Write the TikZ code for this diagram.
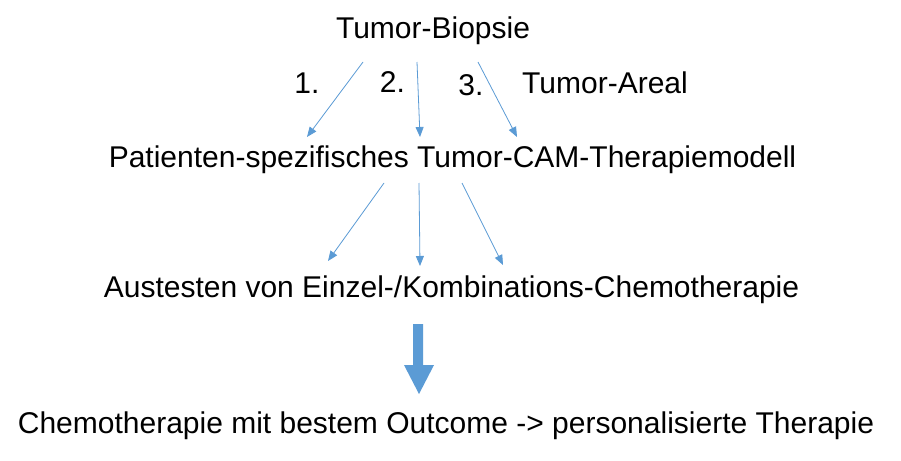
\documentclass[tikz,border=0pt]{standalone}
\usepackage{fontspec}
\setmainfont{Liberation Sans}
\usetikzlibrary{arrows.meta}
\definecolor{arrowblue}{HTML}{5B9BD5}
\begin{document}
\begin{tikzpicture}[x=1pt,y=-1pt,
  lbl/.style={anchor=base,inner sep=0pt,font=\fontsize{30}{36}\selectfont},
  conn/.style={draw=arrowblue,line width=0.8pt,-{Triangle[length=10pt,width=8pt]}},
  bigarrow/.style={fill=arrowblue,draw=none}]
\useasboundingbox (0,0) rectangle (901,460);
\fill[white] (0,0) rectangle (901,460);
% text nodes
\node[lbl] (bio) at (433,38) {Tumor-Biopsie};
\node[lbl] (n1) at (307,93) {1.};
\node[lbl] (n2) at (392.5,92) {2.};
\node[lbl] (n3) at (471,95) {3.};
\node[lbl] (areal) at (605,93) {Tumor-Areal};
\node[lbl] (model) at (452.5,167) {Patienten-spezifisches Tumor-CAM-Therapiemodell};
\node[lbl] (test) at (451.5,297) {Austesten von Einzel-/Kombinations-Chemotherapie};
\node[lbl] (out) at (446,433) {Chemotherapie mit bestem Outcome -> personalisierte Therapie};
% connector end points
\coordinate (a1s) at (363,62); \coordinate (a1e) at (307,137);
\coordinate (a2s) at (417,62); \coordinate (a2e) at (420,137);
\coordinate (a3s) at (478,62); \coordinate (a3e) at (517,137);
\coordinate (b1s) at (384,183); \coordinate (b1e) at (328,261);
\coordinate (b2s) at (419,183); \coordinate (b2e) at (420,266);
\coordinate (b3s) at (462,183); \coordinate (b3e) at (503,265);
\draw[conn] (a1s) -- (a1e);
\draw[conn] (a2s) -- (a2e);
\draw[conn] (a3s) -- (a3e);
\draw[conn] (b1s) -- (b1e);
\draw[conn] (b2s) -- (b2e);
\draw[conn] (b3s) -- (b3e);
% big block arrow
\coordinate (bigtop) at (418,324);
\coordinate (bigtip) at (419,394);
\fill[bigarrow] (413,324) -- (423,324) -- (423,365) -- (434,365) -- (bigtip) -- (404,365) -- (413,365) -- cycle;
\end{tikzpicture}
\end{document}
